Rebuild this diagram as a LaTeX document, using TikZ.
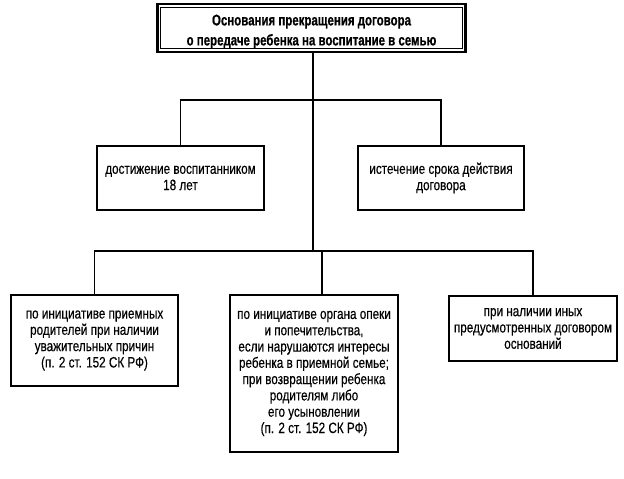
\documentclass[tikz,border=0pt]{standalone}
\usepackage{fontspec}
\setmainfont{Liberation Sans}[FakeStretch=0.78,FakeBold=0.4]
\newfontfamily\titlefont{Liberation Sans}[FakeStretch=0.74,BoldFeatures={FakeBold=0.6}]
\begin{document}
\begin{tikzpicture}[x=1pt,y=-1pt,
  box/.style={draw,line width=1.4pt,rectangle,inner sep=0pt,align=center,
    font=\fontsize{15}{16.3}\selectfont},
  link/.style={line width=1.1pt}]
\useasboundingbox (0,0) rectangle (624,479);
\node[box,line width=2.6pt,minimum width=308,minimum height=48,
  font=\titlefont\bfseries\fontsize{15.5}{20}\selectfont] (top) at (311.5,28)
  {\rule{0pt}{18pt}Основания прекращения договора\\о передаче ребенка на воспитание в семью};
\draw[line width=0.7pt] ([shift={(4.5pt,-4.5pt)}]top.north west) rectangle ([shift={(-4.5pt,4.5pt)}]top.south east);
\node[box,minimum width=167,minimum height=64] (a) at (180.5,178)
  {достижение воспитанником\\18 лет};
\node[box,minimum width=166,minimum height=64] (b) at (441,178)
  {истечение срока действия\\договора};
\node[box,minimum width=167,minimum height=91] (c) at (94.5,340.5)
  {по инициативе приемных\\родителей при наличии\\уважительных причин\\(п. 2 ст. 152 СК РФ)};
\node[box,minimum width=168,minimum height=157] (d) at (314,373.5)
  {по инициативе органа опеки\\и попечительства,\\если нарушаются интересы\\ребенка в приемной семье;\\при возвращении ребенка\\родителям либо\\его усыновлении\\(п. 2 ст. 152 СК РФ)};
\node[box,minimum width=168,minimum height=65] (e) at (533,328.5)
  {при наличии иных\\предусмотренных договором\\оснований};
\coordinate (j1) at (313,100);
\coordinate (j2) at (313,251);
\draw[link] (top.south -| j1) -- (j2);
\draw[link] (a.north) -- (a.north |- j1) -- (b.north |- j1) -- (b.north);
\draw[link] (c.north) -- (c.north |- j2) -- (e.north |- j2) -- (e.north);
\draw[link] (d.north -| 322,0) -- (322,251);
\end{tikzpicture}
\end{document}
